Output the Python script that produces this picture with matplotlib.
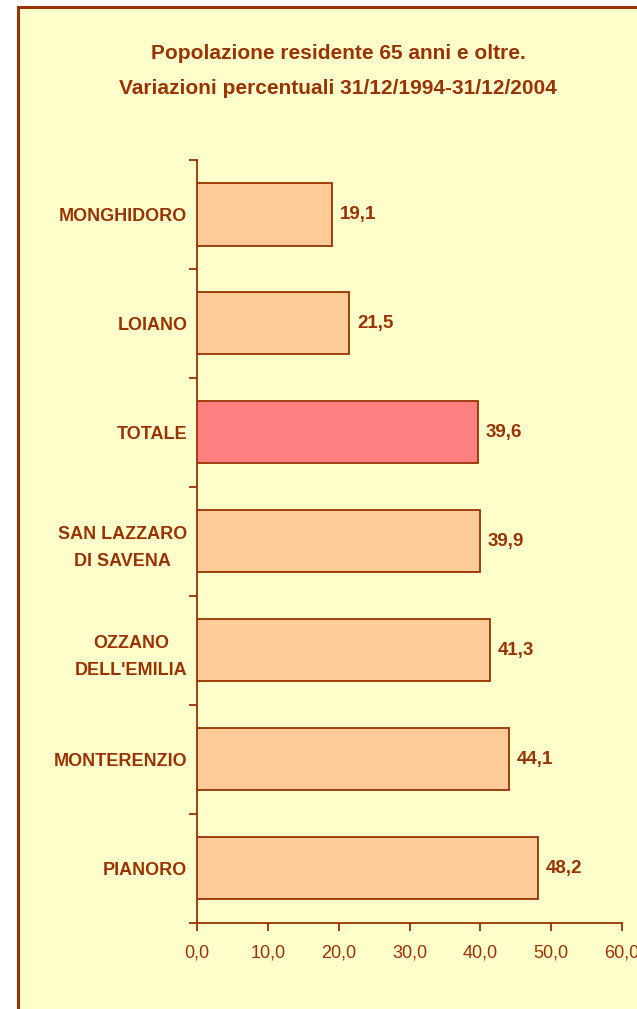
import matplotlib
matplotlib.use("Agg")
import matplotlib.pyplot as plt
from matplotlib.patches import Rectangle
from matplotlib.ticker import FixedLocator, MultipleLocator, FuncFormatter

plt.rcParams['font.family'] = ['Liberation Sans', 'DejaVu Sans']

categories = ["MONGHIDORO", "LOIANO", "TOTALE", "SAN LAZZARO\nDI SAVENA",
              "OZZANO\nDELL'EMILIA", "MONTERENZIO", "PIANORO"]
values = [19.1, 21.5, 39.6, 39.9, 41.3, 44.1, 48.2]
highlight = "TOTALE"
title = "Popolazione residente 65 anni e oltre.\nVariazioni percentuali 31/12/1994-31/12/2004"

TXT = "#993300"
BG = "#FFFFCC"
BAR = "#FFCC99"
HI = "#FF8080"

W, H = 637, 1009
fig = plt.figure(figsize=(W / 100, H / 100), dpi=100)
fig.patch.set_facecolor("white")

# chart area frame
frame = Rectangle((18 / W, -0.05), 1.2, 1 - 7 / H + 0.05, transform=fig.transFigure,
                  facecolor=BG, edgecolor=TXT, linewidth=2.2, zorder=-5)
fig.patches.append(frame)

ax = fig.add_axes([197 / W, 1 - 922.7 / H, (622 - 197) / W, (922.7 - 160) / H])
ax.set_facecolor("none")
ax.set_zorder(2)

n = len(categories)
pos = list(range(n))
colors = [HI if c == highlight else BAR for c in categories]
bars = ax.barh(pos, values, height=0.57, color=colors, edgecolor=TXT, linewidth=1.3, zorder=3)
ax.set_ylim(n - 0.5, -0.5)
ax.set_xlim(0, 60)

for b, v in zip(bars, values):
    ax.text(b.get_width() + 1.1, b.get_y() + b.get_height() / 2,
            f"{v:.1f}".replace(".", ","), va="center", ha="left",
            fontsize=13.5, fontweight="bold", color=TXT)

ax.set_yticks(pos)
ax.set_yticklabels(categories, fontsize=13, fontweight="bold", color=TXT,
                   multialignment="center", linespacing=1.75)
ax.tick_params(axis="y", which="major", length=0, pad=7)
ax.yaxis.set_minor_locator(FixedLocator([i - 0.5 for i in range(n + 1)]))
ax.tick_params(axis="y", which="minor", length=6, width=1.3, color=TXT)

ax.xaxis.set_major_locator(MultipleLocator(10))
ax.xaxis.set_major_formatter(FuncFormatter(lambda x, p: f"{x:.1f}".replace(".", ",")))
ax.tick_params(axis="x", length=6, width=1.3, color=TXT, labelcolor=TXT, labelsize=13, pad=10)
for lab in ax.get_xticklabels():
    lab.set_clip_on(False)

for s in ["top", "right"]:
    ax.spines[s].set_visible(False)
for s in ["left", "bottom"]:
    ax.spines[s].set_color(TXT)
    ax.spines[s].set_linewidth(1.3)

fig.text(338 / W, 1 - 71 / H, title, ha="center", va="center", fontsize=15,
         fontweight="bold", color=TXT, linespacing=2.05)

fig.savefig("out.png", dpi=100, facecolor=fig.get_facecolor())
